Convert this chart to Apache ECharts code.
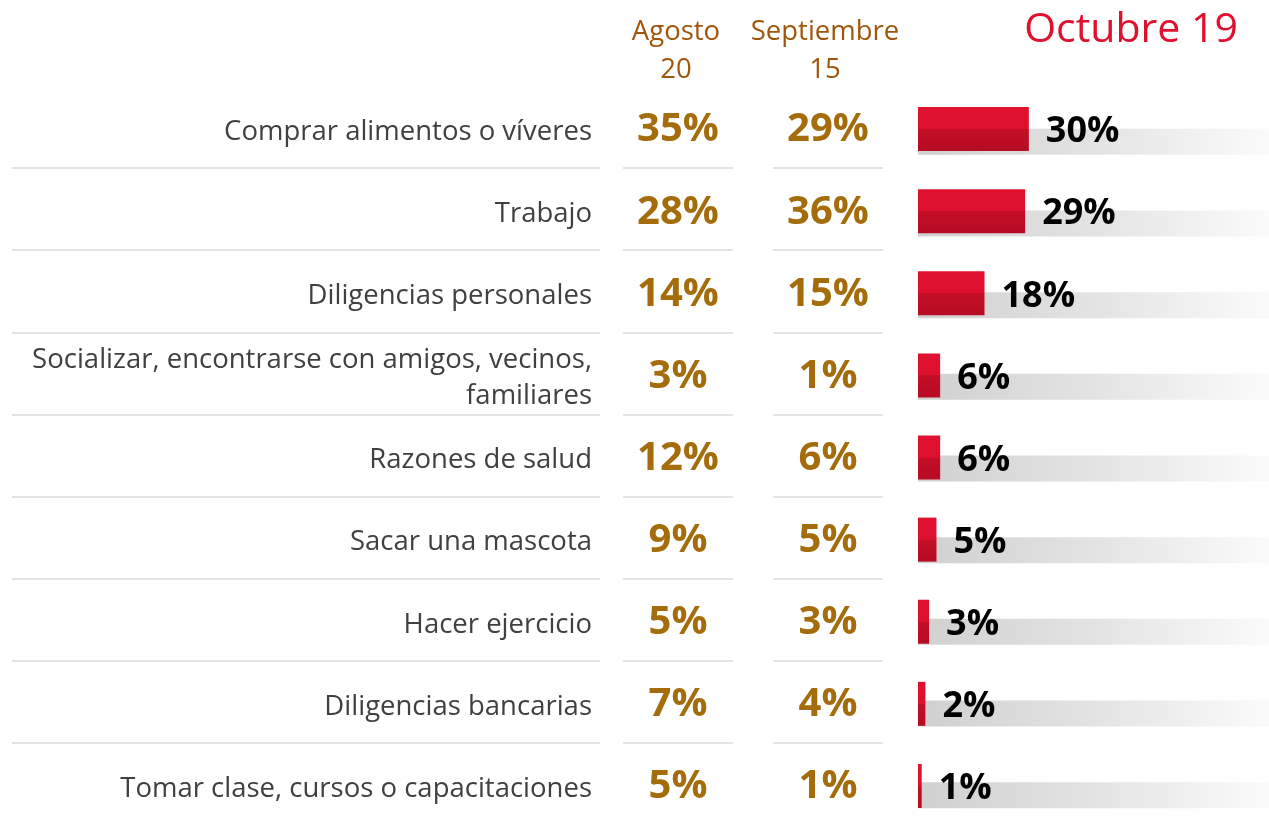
<!DOCTYPE html>
<html>
<head>
<meta charset="utf-8">
<script src="https://cdn.jsdelivr.net/npm/echarts@6/dist/echarts.min.js"></script>
<style>
  html, body { margin: 0; padding: 0; background: #fff; overflow: hidden; }
  /* a little taller than the window so the last row is not squeezed */
  #chart-container { width: 1269px; height: 836px; }
</style>
</head>
<body>
<div id="chart-container"></div>
<script>
var categories = [
    'Comprar alimentos o víveres',
    'Trabajo',
    'Diligencias personales',
    'Socializar, encontrarse con amigos, vecinos, familiares',
    'Razones de salud',
    'Sacar una mascota',
    'Hacer ejercicio',
    'Diligencias bancarias',
    'Tomar clase, cursos o capacitaciones'
];
var months = ['Agosto\n20', 'Septiembre\n15', 'Octubre 19'];
var agosto = [35, 28, 14, 3, 12, 9, 5, 7, 5];
var septiembre = [29, 36, 15, 1, 6, 5, 3, 4, 1];
var octubre = [30, 29, 18, 6, 6, 5, 3, 2, 1];

var dom = document.getElementById('chart-container');
var myChart = echarts.init(dom, null, { renderer: 'canvas' });

var font = 'Open Sans';
var brown = '#a46c0b';
var header = '#a0560c';

// hide the line above the first row
var sepLine = {
    show: true,
    interval: function (index) { return index !== 0; },
    lineStyle: { color: '#d9d9d9', width: 1.5 }
};

function catAxis(grid, extra) {
    return Object.assign({
        type: 'category',
        gridIndex: grid,
        data: categories,
        inverse: true,
        axisLine: { show: false },
        axisTick: { show: false },
        axisLabel: { show: false },
        splitLine: { show: false }
    }, extra || {});
}

function textColumn(values, idx) {
    return {
        type: 'scatter',
        xAxisIndex: idx,
        yAxisIndex: idx,
        symbolSize: 1,
        itemStyle: { color: 'transparent', opacity: 1 },
        data: values.map(function (v, i) { return [0, i, v]; }),
        encode: { x: 0, y: 1 },
        label: {
            show: true,
            position: 'inside',
            offset: [0, 3],
            formatter: function (p) { return p.value[2] + '%'; },
            fontFamily: font,
            fontSize: 40,
            fontWeight: 'bold',
            color: brown
        }
    };
}

var titleStyle = { fontFamily: font, fontSize: 27.5, fontWeight: 'normal', color: header, lineHeight: 38 };

var option = {
    animation: false,
    title: [
        { text: months[0], left: 671, top: 8, textAlign: 'center', textStyle: titleStyle },
        { text: months[1], left: 820, top: 8, textAlign: 'center', textStyle: titleStyle },
        { text: months[2], left: 1126, top: 5, textAlign: 'center',
          textStyle: { fontFamily: font, fontSize: 41, fontWeight: 'normal', color: '#e0102f' } }
    ],
    grid: [
        { left: 12, width: 588, top: 86, height: 739 },
        { left: 623, width: 110, top: 86, height: 739 },
        { left: 773, width: 110, top: 86, height: 739 },
        { left: 918, right: 0, top: 101, height: 739 },
        { left: 918, right: 0, top: 88, height: 739 },
        { left: 12, width: 588, top: 91, height: 739 }
    ],
    xAxis: [
        { type: 'value', gridIndex: 0, show: false },
        { type: 'value', gridIndex: 1, show: false, min: -1, max: 1 },
        { type: 'value', gridIndex: 2, show: false, min: -1, max: 1 },
        { type: 'value', gridIndex: 3, show: false, min: 0, max: 95 },
        { type: 'value', gridIndex: 4, show: false, min: 0, max: 95 },
        { type: 'value', gridIndex: 5, show: false }
    ],
    yAxis: [
        catAxis(0, { splitLine: sepLine }),
        catAxis(1, { splitLine: sepLine }),
        catAxis(2, { splitLine: sepLine }),
        catAxis(3),
        catAxis(4),
        catAxis(5, {
            position: 'right',
            axisLabel: {
                show: true,
                inside: true,
                margin: 8,
                lineHeight: 36,
                fontFamily: font,
                fontSize: 27.5,
                color: '#404040',
                formatter: function (v) { return v.replace('vecinos, ', 'vecinos,\n'); }
            }
        })
    ],
    series: [
        textColumn(agosto, 1),
        textColumn(septiembre, 2),
        {
            // grey track behind the bars
            type: 'bar',
            xAxisIndex: 3,
            yAxisIndex: 3,
            data: octubre,
            barWidth: 26,
            itemStyle: { color: 'transparent' },
            showBackground: true,
            backgroundStyle: {
                color: new echarts.graphic.LinearGradient(0, 0, 1, 0, [
                    { offset: 0, color: '#d0d0d0' },
                    { offset: 0.5, color: '#e3e3e3' },
                    { offset: 1, color: '#fbfbfb' }
                ])
            },
            z: 1
        },
        {
            type: 'bar',
            xAxisIndex: 4,
            yAxisIndex: 4,
            data: octubre,
            barWidth: 44,
            z: 3,
            itemStyle: {
                color: new echarts.graphic.LinearGradient(0, 0, 0, 1, [
                    { offset: 0, color: '#e0112f' },
                    { offset: 0.5, color: '#dc102e' },
                    { offset: 0.5, color: '#c40e27' },
                    { offset: 1, color: '#b70c24' }
                ])
            },
            label: {
                show: true,
                position: 'right',
                distance: 17,
                offset: [0, 3],
                formatter: '{c}%',
                fontFamily: font,
                fontSize: 36,
                fontWeight: 'bold',
                color: '#000'
            }
        }
    ]
};

myChart.setOption(option);
window.addEventListener('resize', myChart.resize);
</script>
</body>
</html>
